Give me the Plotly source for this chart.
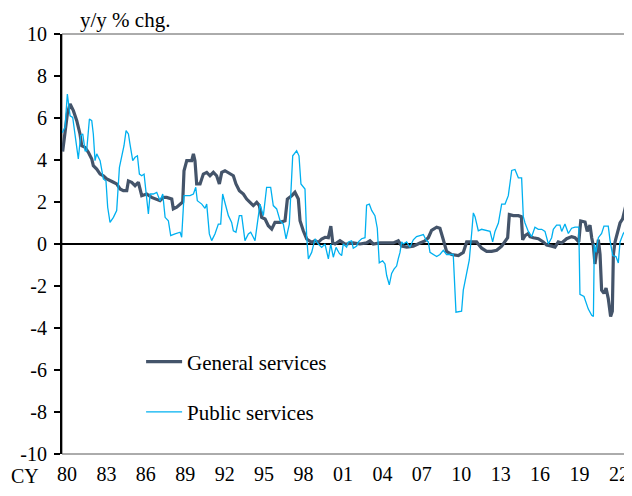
import plotly.graph_objects as go

# ---- data (decimal year, y/y % chg.) ----
gen_t = [1980.00, 1980.18, 1980.36, 1980.57, 1980.82, 1981.08, 1981.33, 1981.46, 1981.72, 1981.97,
         1982.23, 1982.35, 1982.61, 1982.87, 1983.12, 1983.38, 1983.63, 1983.89, 1984.14, 1984.40,
         1984.65, 1984.91, 1985.04, 1985.29, 1985.55, 1985.80, 1986.06, 1986.44, 1986.82, 1987.21,
         1987.46, 1987.72, 1987.97, 1988.36, 1988.48, 1988.74, 1989.00, 1989.20, 1989.30, 1989.51,
         1989.89, 1990.02, 1990.14, 1990.27, 1990.53, 1990.78, 1991.04, 1991.29, 1991.55, 1991.80,
         1992.01, 1992.19, 1992.44, 1992.82, 1993.08, 1993.28, 1993.54, 1993.85, 1994.10, 1994.36,
         1994.61, 1994.87, 1995.07, 1995.25, 1995.51, 1995.76, 1996.02, 1996.27, 1996.66, 1997.04,
         1997.22, 1997.55, 1997.80, 1998.06, 1998.19, 1998.44, 1998.70, 1999.08, 1999.34, 1999.59,
         1999.85, 2000.10, 2000.36, 2000.55, 2000.70, 2000.87, 2001.25, 2001.64, 2001.76, 2002.27,
         2002.78, 2003.29, 2003.55, 2003.80, 2004.32, 2004.83, 2005.34, 2005.72, 2005.98, 2006.36,
         2006.87, 2007.38, 2007.76, 2008.02, 2008.27, 2008.66, 2008.91, 2009.17, 2009.42, 2009.81,
         2010.32, 2010.70, 2010.96, 2011.34, 2011.72, 2012.11, 2012.49, 2012.87, 2013.26, 2013.64,
         2013.90, 2014.10, 2014.23, 2014.53, 2014.92, 2015.15, 2015.25, 2015.43, 2015.68, 2015.81,
         2016.07, 2016.45, 2016.83, 2017.09, 2017.47, 2017.73, 2017.98, 2018.24, 2018.62, 2019.00,
         2019.26, 2019.55, 2019.70, 2020.03, 2020.20, 2020.41, 2020.54, 2020.67, 2020.79, 2020.92,
         2021.05, 2021.18, 2021.30, 2021.48, 2021.64, 2021.81, 2021.99, 2022.12, 2022.20, 2022.33,
         2022.50, 2022.71, 2022.91, 2023.09, 2023.22]
gen_v = [4.4, 5.2, 6.2, 6.67, 6.35, 5.87, 5.24, 4.68, 4.6, 4.37,
         4.05, 3.73, 3.57, 3.33, 3.25, 3.1, 3.0, 2.94, 2.86, 2.62,
         2.54, 2.54, 3.0, 2.94, 2.78, 2.94, 2.3, 2.38, 2.22, 2.14,
         2.06, 2.22, 2.22, 2.14, 1.67, 1.75, 1.9, 2.0, 3.49, 3.97,
         3.97, 4.29, 3.97, 2.86, 2.86, 3.33, 3.41, 3.25, 3.41, 3.25,
         2.86, 3.41, 3.49, 3.33, 3.25, 2.86, 2.54, 2.38, 2.14, 1.98,
         1.83, 1.98, 1.83, 1.27, 1.19, 0.87, 0.71, 1.03, 1.03, 1.11,
         2.14, 2.3, 2.46, 2.14, 1.11, 0.63, 0.24, 0.08, 0.16, 0.08,
         0.24, 0.32, 0.3, 0.85, 0.05, 0.0, 0.16, 0.0, 0.0, 0.05,
         0.0, 0.05, 0.15, 0.0, 0.05, 0.05, 0.05, 0.15, -0.1, -0.15,
         -0.1, 0.05, 0.15, 0.3, 0.65, 0.8, 0.75, 0.2, -0.35, -0.5,
         -0.55, -0.4, 0.1, 0.1, 0.1, -0.2, -0.35, -0.35, -0.3, -0.1,
         0.1, 0.3, 1.4, 1.35, 1.35, 1.3, 0.2, 0.4, 0.5, 0.35,
         0.3, 0.25, 0.1, -0.05, -0.1, -0.15, 0.1, 0.05, 0.25, 0.35,
         0.3, 0.1, 1.1, 1.05, 0.6, 0.9, 0.3, -0.1, -0.95, -0.35,
         0.2, -0.5, -2.2, -2.35, -2.1, -2.6, -3.45, -3.2, -0.5, 0.1,
         0.5, 1.0, 1.2, 1.7, 2.0]

pub_t = [1979.97, 1980.18, 1980.36, 1980.57, 1980.77, 1980.95, 1981.08, 1981.20, 1981.38, 1981.54,
         1981.72, 1981.84, 1982.05, 1982.23, 1982.35, 1982.48, 1982.61, 1982.87, 1983.12, 1983.32,
         1983.45, 1983.63, 1983.89, 1984.14, 1984.35, 1984.53, 1984.70, 1984.86, 1985.04, 1985.16,
         1985.37, 1985.55, 1985.73, 1985.88, 1986.06, 1986.24, 1986.39, 1986.57, 1986.70, 1986.95,
         1987.21, 1987.46, 1987.67, 1987.85, 1988.10, 1988.28, 1988.61, 1989.00, 1989.12, 1989.30,
         1989.76, 1990.02, 1990.20, 1990.32, 1990.66, 1990.91, 1991.04, 1991.24, 1991.42, 1991.67,
         1991.93, 1992.11, 1992.26, 1992.44, 1992.70, 1992.95, 1993.08, 1993.28, 1993.54, 1993.72,
         1993.97, 1994.23, 1994.41, 1994.61, 1994.74, 1995.12, 1995.38, 1995.63, 1995.94, 1996.14,
         1996.40, 1996.66, 1996.91, 1997.12, 1997.37, 1997.63, 1997.93, 1998.11, 1998.26, 1998.57,
         1998.70, 1998.83, 1999.08, 1999.34, 1999.59, 1999.85, 2000.10, 2000.36, 2000.54, 2000.74,
         2000.95, 2001.20, 2001.38, 2001.50, 2001.76, 2001.89, 2002.14, 2002.27, 2002.53, 2002.66,
         2002.91, 2003.17, 2003.29, 2003.50, 2003.68, 2003.93, 2004.11, 2004.26, 2004.52, 2004.70,
         2004.83, 2005.03, 2005.21, 2005.39, 2005.59, 2005.72, 2005.85, 2005.98, 2006.10, 2006.36,
         2006.61, 2006.87, 2007.12, 2007.38, 2007.64, 2007.84, 2008.02, 2008.15, 2008.40, 2008.66,
         2008.91, 2009.17, 2009.42, 2009.93, 2010.14, 2010.57, 2010.70, 2010.96, 2011.16, 2011.34,
         2011.47, 2011.60, 2011.72, 2011.85, 2012.10, 2012.49, 2012.75, 2012.95, 2013.13, 2013.39,
         2013.64, 2013.90, 2014.15, 2014.41, 2014.66, 2014.92, 2015.17, 2015.30, 2015.43, 2015.68,
         2015.94, 2016.19, 2016.45, 2016.71, 2016.96, 2017.22, 2017.47, 2017.60, 2017.85, 2018.11,
         2018.24, 2018.49, 2018.75, 2019.00, 2019.26, 2019.55, 2019.64, 2019.95, 2020.10, 2020.28,
         2020.54, 2020.67, 2020.74, 2020.87, 2021.05, 2021.30, 2021.48, 2021.81, 2021.94, 2022.15,
         2022.40, 2022.58, 2022.71, 2022.96, 2023.22]
pub_v = [5.3, 5.56, 7.14, 6.1, 6.03, 5.24, 4.44, 4.05, 5.16, 5.24,
         4.44, 4.44, 5.95, 5.87, 5.24, 3.97, 4.29, 3.97, 3.1, 3.0,
         1.75, 1.03, 1.27, 1.59, 3.65, 4.2, 4.68, 5.4, 5.24, 4.76,
         3.97, 4.13, 4.2, 3.33, 3.25, 3.33, 2.38, 1.43, 2.38, 2.38,
         2.46, 2.06, 2.38, 1.27, 1.11, 0.4, 0.48, 0.56, 0.32, 2.3,
         2.3, 2.38, 2.7, 2.06, 1.9, 1.7, 1.9, 0.48, 0.16, 0.48,
         0.95, 0.95, 2.38, 1.9, 1.35, 1.03, 0.63, 0.56, 1.35, 1.35,
         0.16, 0.48, 0.56, 0.32, 0.16, 1.9, 1.35, 2.7, 2.7, 1.83,
         1.67, 1.11, 0.95, 0.24, 0.95, 4.2, 4.44, 4.2, 2.86, 2.62,
         0.32, -0.71, -0.4, 0.24, 0.0, -0.16, 0.0, -0.71, 0.0, -0.63,
         -0.16, -0.45, -0.55, 0.0, -0.15, 0.1, 0.15, -0.2, -0.1, 0.1,
         0.25, 0.3, 1.85, 1.9, 1.6, 1.35, 0.75, -0.9, -0.8, -0.95,
         -1.5, -1.95, -1.4, -1.2, -1.05, -0.7, -0.4, 0.1, 0.0, 0.1,
         -0.15, 0.2, 0.35, 0.4, 0.45, 0.2, 0.1, -0.4, -0.5, -0.6,
         -0.5, -0.3, -0.5, -0.5, -3.25, -3.2, -2.2, -1.4, -0.76, 0.5,
         1.48, 1.3, 0.95, 0.63, 0.7, 0.65, 0.6, 0.1, 0.6, 1.0,
         1.9, 1.9, 2.3, 3.5, 3.55, 3.15, 3.15, 1.3, 1.0, 0.6,
         0.35, 0.8, 0.7, 0.7, 0.6, 0.0, 0.3, 0.7, 0.9, 0.9,
         0.6, 0.95, 0.5, 0.75, 0.8, 0.8, -2.4, -2.5, -2.8, -3.1,
         -3.4, -3.45, 0.0, -0.4, 0.3, 0.5, 0.85, 0.85, 0.2, -0.55,
         -0.6, -0.9, 0.1, 0.5, 0.7]

x_labels = ["80", "83", "86", "89", "92", "95", "98", "01", "04", "07", "10", "13", "16", "19", "22"]
y_ticks = [10, 8, 6, 4, 2, 0, -2, -4, -6, -8, -10]

FONT = "Liberation Serif, Times New Roman, serif"
X0, X1 = 1979.95, 2023.245

fig = go.Figure()
fig.add_trace(go.Scatter(x=gen_t, y=gen_v, mode="lines", name="General services",
                         line=dict(color="#44546A", width=3.2), legendgroup="g"))
fig.add_trace(go.Scatter(x=pub_t, y=pub_v, mode="lines", name="Public services",
                         line=dict(color="#00B0F0", width=1.3), legendgroup="p"))

tickvals = [1980.33 + i * (42.30 / 14) for i in range(len(x_labels))]

# page body has an 8px margin, so the figure is sized 624x488 to fill the 632x496 window
fig.update_layout(
    width=624, height=488,
    margin=dict(l=54, r=5, t=26, b=42, autoexpand=False),
    paper_bgcolor="white", plot_bgcolor="white",
    font=dict(family=FONT, size=20, color="black"),
    showlegend=True,
    legend=dict(x=0.14, y=0.268, xanchor="left", yanchor="top",
                bgcolor="rgba(0,0,0,0)", font=dict(family=FONT, size=21, color="black"),
                traceorder="grouped", tracegroupgap=20, itemwidth=36),
    xaxis=dict(range=[X0, X1], showgrid=False, zeroline=False, showline=False,
               automargin=False,
               tickmode="array", tickvals=tickvals, ticktext=x_labels, ticks="",
               ticklabelstandoff=6, tickfont=dict(family=FONT, size=20)),
    yaxis=dict(range=[-10, 10], showgrid=False, zeroline=True, zerolinecolor="black",
               zerolinewidth=2, showline=True, linecolor="black", linewidth=2,
               automargin=False, ticklabelstandoff=3,
               tickmode="array", tickvals=y_ticks, ticktext=[str(v) for v in y_ticks],
               ticks="outside", ticklen=6, tickwidth=2, tickcolor="black",
               tickfont=dict(family=FONT, size=20)),
    shapes=[dict(type="rect", xref="paper", yref="paper", x0=0, x1=1, y0=0, y1=1,
                 line=dict(color="#595959", width=1), layer="below")],
    annotations=[
        dict(text="y/y % chg.", xref="paper", yref="paper", x=0.028, y=1.0333,
             xanchor="left", yanchor="middle", showarrow=False,
             font=dict(family=FONT, size=21)),
        dict(text="CY", xref="paper", yref="paper", x=-0.0938, y=-0.052,
             xanchor="left", yanchor="middle", showarrow=False,
             font=dict(family=FONT, size=20)),
    ],
)

fig.write_html("out.html")
